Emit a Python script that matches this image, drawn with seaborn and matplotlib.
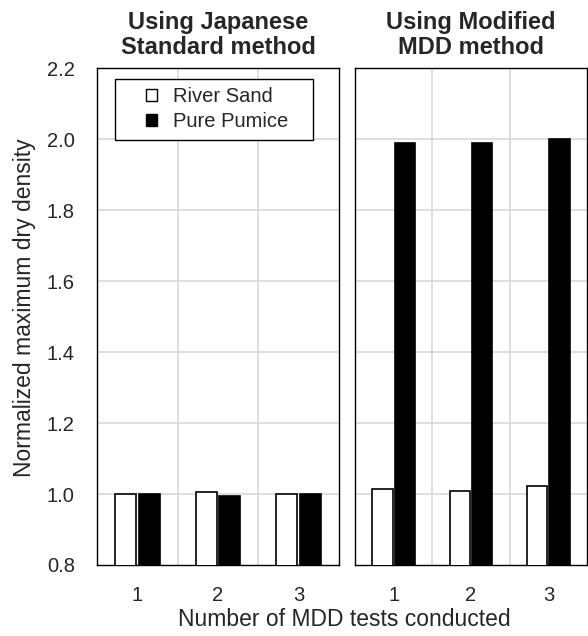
import matplotlib
matplotlib.use("Agg")
import matplotlib.pyplot as plt
import seaborn as sns
import pandas as pd
from matplotlib.patches import Patch, Rectangle

tests = ["1", "2", "3"]
materials = ["River Sand", "Pure Pumice"]
jp_river = [1.000, 1.005, 1.000]
jp_pumice = [1.000, 0.995, 1.000]
mdd_river = [1.014, 1.009, 1.023]
mdd_pumice = [1.989, 1.989, 2.000]
titles = ["Using Japanese\nStandard method", "Using Modified\nMDD method"]
yticks = [0.8, 1.0, 1.2, 1.4, 1.6, 1.8, 2.0, 2.2]

def frame(river, pumice):
    return pd.DataFrame({
        "test": tests * 2,
        "material": [materials[0]] * 3 + [materials[1]] * 3,
        "value": list(river) + list(pumice),
    })

sns.set_style("white")
plt.rcParams["font.family"] = ["Liberation Sans", "DejaVu Sans"]

fig = plt.figure(figsize=(5.88, 6.36), dpi=100)
bottom = 1 - 565 / 636
top = 1 - 68 / 636
h = top - bottom
ax1 = fig.add_axes([97 / 588, bottom, (339 - 97) / 588, h])
ax2 = fig.add_axes([355 / 588, bottom, (587 - 355) / 588, h])

palette = {"River Sand": "white", "Pure Pumice": "black"}
for ax, (r, p), title in zip([ax1, ax2], [(jp_river, jp_pumice), (mdd_river, mdd_pumice)], titles):
    df = frame(r, p)
    sns.barplot(data=df, x="test", y="value", hue="material", order=tests,
                hue_order=materials, palette=palette, edgecolor="black",
                linewidth=1.2, width=0.58, gap=0.1, ax=ax, legend=False, zorder=3)
    ax.set_ylim(0.8, 2.2)
    ax.set_xlim(-0.5, 2.5)
    ax.set_yticks(yticks)
    ax.set_xticks([0, 1, 2])
    ax.set_xticklabels(tests, fontsize=14.5)
    ax.set_xlabel("")
    ax.set_ylabel("")
    ax.set_title(title, fontsize=17, fontweight="bold", pad=10, linespacing=1.1)
    for yv in yticks[1:-1]:
        ax.axhline(yv, color="#d9d9d9", lw=1.2, zorder=0)
    for xv in [0.5, 1.5]:
        ax.axvline(xv, color="#d9d9d9", lw=1.2, zorder=0)
    for s in ax.spines.values():
        s.set_color("black")
        s.set_linewidth(1.0)
    ax.tick_params(axis="x", length=0, pad=15)

ax1.set_yticklabels([f"{v:.1f}" for v in yticks], fontsize=14.5)
ax1.tick_params(axis="y", length=0, pad=16)
ax2.tick_params(axis="y", length=0)
ax2.set_yticklabels([])

fig.text(25 / 588, 1 - 308 / 636, "Normalized maximum dry density",
         rotation=90, ha="center", va="center", fontsize=16.5)

# legend frame
ax1.add_patch(Rectangle((0.074, 0.855), 0.818, 0.123, transform=ax1.transAxes,
                        facecolor="white", edgecolor="black", lw=1.0, zorder=5))
handles = [Patch(facecolor="white", edgecolor="black", lw=1),
           Patch(facecolor="black", edgecolor="black", lw=1)]
leg = ax1.legend(handles, materials, loc="upper left",
                 bbox_to_anchor=(0.2025, 0.962), fontsize=14.5,
                 handlelength=0.55, handleheight=0.55, handletextpad=0.8,
                 borderpad=0, labelspacing=0.32, frameon=False, borderaxespad=0)
leg.set_zorder(6)

fig.text(344 / 588, 1 - 620 / 636, "Number of MDD tests conducted",
         ha="center", va="center", fontsize=16.5)

fig.savefig("out.png", dpi=100)
